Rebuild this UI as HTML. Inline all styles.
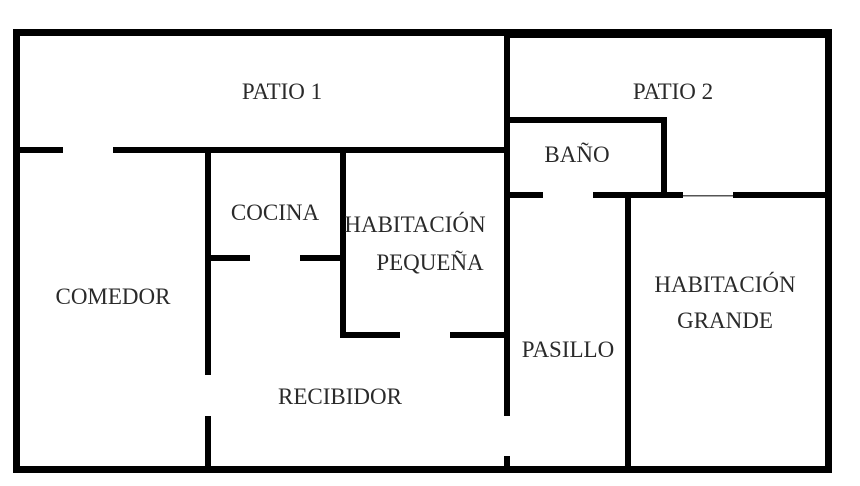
<!DOCTYPE html>
<html><head><meta charset="utf-8"><style>
html,body{margin:0;padding:0;background:#fff;}
svg{display:block;}
text{font-family:"Liberation Serif",serif;font-size:23px;fill:#2a2a2a;text-anchor:middle;}
</style></head><body>
<svg width="860" height="486" viewBox="0 0 860 486" xmlns="http://www.w3.org/2000/svg">
<g fill="#000">
<rect x="13" y="29" width="496" height="7"/>
<rect x="505" y="29" width="327" height="9"/>
<rect x="13" y="29" width="7" height="444"/>
<rect x="825" y="29" width="7" height="444"/>
<rect x="13" y="466" width="819" height="7"/>
<rect x="18" y="147" width="45" height="6"/>
<rect x="113" y="147" width="394" height="6"/>
<rect x="504" y="33" width="6" height="383"/>
<rect x="504" y="456" width="6" height="14"/>
<rect x="205" y="150" width="6" height="225"/>
<rect x="205" y="416" width="6" height="54"/>
<rect x="340" y="150" width="6" height="188"/>
<rect x="208" y="255" width="42" height="6"/>
<rect x="300" y="255" width="45" height="6"/>
<rect x="340" y="332" width="60" height="6"/>
<rect x="450" y="332" width="57" height="6"/>
<rect x="508" y="117" width="159" height="6"/>
<rect x="661" y="117" width="6" height="80"/>
<rect x="508" y="192" width="35" height="6"/>
<rect x="593" y="192" width="90" height="6"/>
<rect x="733" y="192" width="95" height="6"/>
<rect x="683" y="195" width="50" height="1.5" fill="#555"/>
<rect x="625" y="195" width="6" height="275"/>
</g>
<text x="282" y="99">PATIO 1</text>
<text x="673" y="99">PATIO 2</text>
<text x="577" y="162">BAÑO</text>
<text x="275" y="220">COCINA</text>
<text x="415" y="232">HABITACIÓN</text>
<text x="430" y="270">PEQUEÑA</text>
<text x="113" y="304">COMEDOR</text>
<text x="725" y="292">HABITACIÓN</text>
<text x="725" y="328">GRANDE</text>
<text x="568" y="357">PASILLO</text>
<text x="340" y="404">RECIBIDOR</text>
</svg>
</body></html>
